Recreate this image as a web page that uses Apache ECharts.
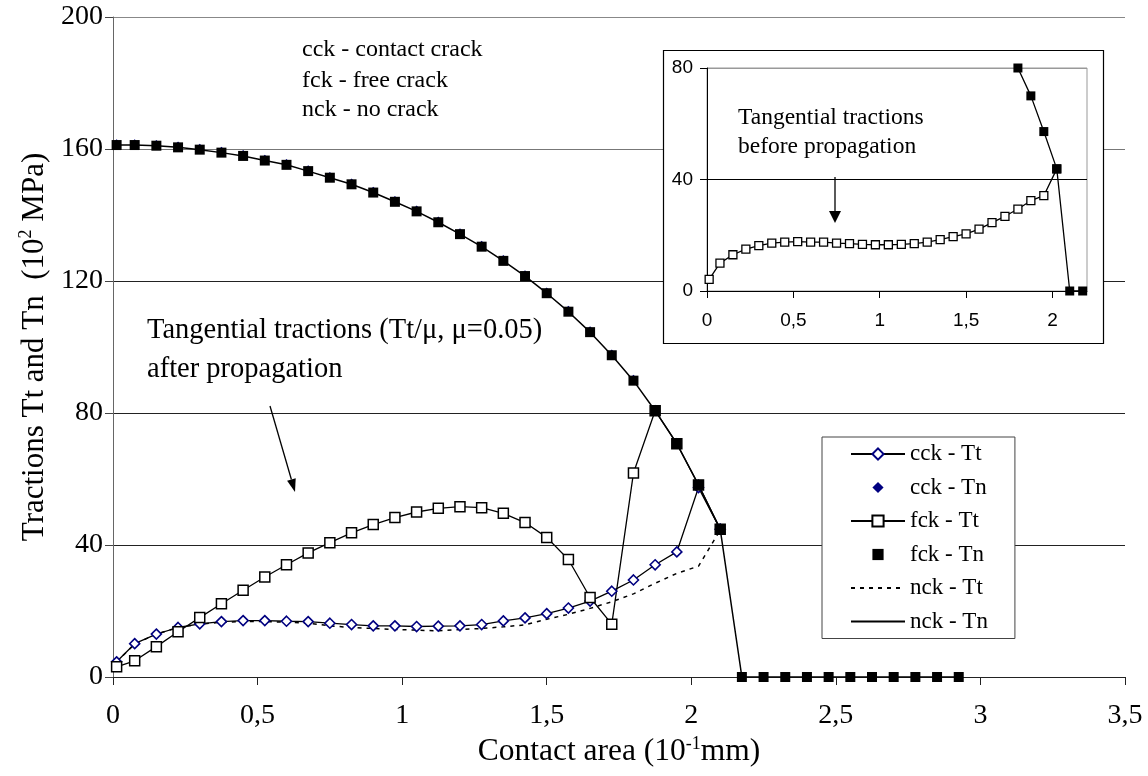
<!DOCTYPE html>
<html><head><meta charset="utf-8">
<script src="https://cdn.jsdelivr.net/npm/echarts@6/dist/echarts.min.js"></script>
<style>html,body{margin:0;padding:0;background:#fff}#c{width:1148px;height:776px}</style>
</head><body><div id="c"></div>
<script>
// ---------- data ----------
const xMain = [0.0125,0.075,0.15,0.225,0.3,0.375,0.45,0.525,0.6,0.675,0.75,0.825,0.9,0.975,1.05,1.125,1.2,1.275,1.35,1.425,1.5,1.575,1.65,1.725,1.8,1.875,1.95,2.025,2.1,2.175,2.25,2.325,2.4,2.475,2.55,2.625,2.7,2.775,2.85,2.925];
const cckTt = [4.6,10.1,13.0,15.0,16.1,16.8,17.1,17.1,16.9,16.8,16.3,15.9,15.5,15.5,15.3,15.4,15.5,15.9,17.0,17.9,19.2,20.9,23.0,26.0,29.4,34.0,37.9,57.4,44.8];
const cckTn = [161.6,161.6,161.4,160.9,160.2,159.3,158.3,156.9,155.6,153.7,151.7,149.7,147.2,144.4,141.5,138.2,134.6,130.8,126.5,121.9,116.7,111.1,104.9,97.9,90.2,81.1,71.1,58.6,45.2];
const fckTt = [3.1,4.9,9.2,13.7,18.0,22.2,26.3,30.3,34.0,37.6,40.7,43.7,46.2,48.3,50.0,51.1,51.6,51.3,49.6,46.8,42.3,35.6,24.1,16.0,61.8,80.7,70.7,58.2,44.8];
const fckTn = [161.2,161.2,161.0,160.5,159.8,158.9,157.9,156.5,155.2,153.3,151.3,149.3,146.8,144.0,141.1,137.8,134.2,130.4,126.1,121.5,116.3,110.7,104.5,97.5,89.8,80.7,70.7,58.2,44.8,0,0,0,0,0,0,0,0,0,0,0];
const nckTt = [4.6,10.0,13.0,15.0,16.0,16.6,16.8,16.8,16.6,16.3,15.5,15.0,14.7,14.4,14.2,14.0,14.4,14.7,15.2,15.8,17.5,19.0,20.8,22.8,25.2,28.4,31.4,33.6,44.5];
const nckTn = [161.2,161.2,161.0,160.5,159.8,158.9,157.9,156.5,155.2,153.3,151.3,149.3,146.8,144.0,141.1,137.8,134.2,130.4,126.1,121.5,116.3,110.7,104.5,97.5,89.8,80.7,70.7,58.2,44.8,0,0,0,0,0,0,0,0,0,0,0];
// inset (before propagation)
const insetTtX = [0.0125,0.075,0.15,0.225,0.3,0.375,0.45,0.525,0.6,0.675,0.75,0.825,0.9,0.975,1.05,1.125,1.2,1.275,1.35,1.425,1.5,1.575,1.65,1.725,1.8,1.875,1.95,2.025];
const insetTt = [4.2,10.0,13.0,15.0,16.3,17.2,17.5,17.7,17.5,17.5,17.2,17.0,16.7,16.6,16.6,16.7,17.0,17.5,18.4,19.5,20.5,22.2,24.5,26.8,29.4,32.4,34.2,43.8];
const insetTnX = [1.8,1.875,1.95,2.025,2.1,2.175];
const insetTn = [80,70,57.2,43.8,0,0];
const legendNames = ['cck - Tt','cck - Tn','fck - Tt','fck - Tn','nck - Tt','nck - Tn'];
const insetTickValues = [0,0.5,1,1.5,2];

// ---------- chart ----------
const SERIF = '"Liberation Serif","Times New Roman",serif';
const SANS = '"Liberation Sans",Arial,sans-serif';
const fmt = v => String(v).replace('.', ',');
const pairs = (xs, ys) => ys.map((y, i) => [xs[i], y]);
const lineOnly = ['nck - Tt', 'nck - Tn'];

const chart = echarts.init(document.getElementById('c'), null, {renderer: 'canvas'});
const option = {
  animation: false,
  backgroundColor: '#fff',
  grid: [
    {left: 113, top: 17, right: 23, bottom: 99},
    {left: 707, top: 68, right: 61, bottom: 485, show: true, borderColor: '#999', borderWidth: 1, backgroundColor: 'transparent', z: 10}
  ],
  xAxis: [
    {
      type: 'value', gridIndex: 0, min: 0, max: 3.5, interval: 0.5,
      axisLine: {show: true, onZero: false, lineStyle: {color: '#222', width: 1}},
      axisTick: {show: true, inside: false, length: 8, lineStyle: {color: '#222'}},
      axisLabel: {fontFamily: SERIF, fontSize: 28, color: '#000', margin: 25, formatter: fmt},
      splitLine: {show: false},
      name: '{t|Contact area (10}{s|-1}{t|mm)}',
      nameLocation: 'middle', nameGap: 56,
      nameTextStyle: {rich: {
        t: {fontFamily: SERIF, fontSize: 31.5, color: '#000', lineHeight: 34},
        s: {fontFamily: SERIF, fontSize: 18, color: '#000', verticalAlign: 'top', lineHeight: 34}
      }}
    },
    {
      type: 'value', gridIndex: 1, min: 0, max: 2.2, interval: 0.5, z: 12,
      axisLine: {show: true, onZero: false, lineStyle: {color: '#000', width: 1}},
      axisTick: {show: true, length: 7, customValues: insetTickValues, lineStyle: {color: '#000'}},
      axisLabel: {customValues: insetTickValues, fontFamily: SANS, fontSize: 19, color: '#000', margin: 20, formatter: fmt},
      splitLine: {show: false}
    }
  ],
  yAxis: [
    {
      type: 'value', gridIndex: 0, min: 0, max: 200, interval: 40,
      axisLine: {show: true, onZero: false, lineStyle: {color: '#666', width: 1}},
      axisTick: {show: true, inside: false, length: 8, lineStyle: {color: '#444'}},
      axisLabel: {fontFamily: SERIF, fontSize: 28, color: '#000', margin: 10},
      splitLine: {show: true, lineStyle: {color: ['#000', '#222', '#222', '#222', '#777', '#888'], width: 1}},
      name: '{t|Tractions Tt and Tn  (10}{s|2}{t| MPa)}',
      nameLocation: 'middle', nameGap: 56,
      nameTextStyle: {rich: {
        t: {fontFamily: SERIF, fontSize: 31, color: '#000', lineHeight: 34},
        s: {fontFamily: SERIF, fontSize: 18, color: '#000', verticalAlign: 'top', lineHeight: 34}
      }}
    },
    {
      type: 'value', gridIndex: 1, min: 0, max: 80, interval: 40, z: 12,
      axisLine: {show: true, onZero: false, lineStyle: {color: '#000', width: 1}},
      axisTick: {show: true, inside: false, length: 7, lineStyle: {color: '#000'}},
      axisLabel: {fontFamily: SANS, fontSize: 19, color: '#000', margin: 14},
      splitLine: {show: true, lineStyle: {color: ['#000', '#000', '#999'], width: 1}}
    }
  ],
  legend: {
    data: legendNames.map(n => lineOnly.includes(n) ? {name: n, itemStyle: {opacity: 0}} : {name: n}),
    orient: 'vertical', left: 822, top: 437,
    itemWidth: 54, itemHeight: 14, itemGap: 9.5,
    padding: [5, 27, 5, 28],
    borderColor: '#444', borderWidth: 1, backgroundColor: '#fff',
    textStyle: {fontFamily: SERIF, fontSize: 23, color: '#000', lineHeight: 24},
    selectedMode: false, z: 6
  },
  graphic: [
    {type: 'rect', z: 5, shape: {x: 663.5, y: 50.5, width: 440, height: 293}, style: {fill: '#fff', stroke: '#000', lineWidth: 1.2}},
    {type: 'text', z: 20, x: 302, y: 50, style: {text: 'cck - contact crack', font: '24px ' + SERIF, fill: '#000', align: 'left', verticalAlign: 'middle'}},
    {type: 'text', z: 20, x: 302, y: 81, style: {text: 'fck - free crack', font: '24px ' + SERIF, fill: '#000', align: 'left', verticalAlign: 'middle'}},
    {type: 'text', z: 20, x: 302, y: 110, style: {text: 'nck - no crack', font: '24px ' + SERIF, fill: '#000', align: 'left', verticalAlign: 'middle'}},
    {type: 'text', z: 20, x: 147, y: 331, style: {text: 'Tangential tractions (Tt/\u03bc, \u03bc=0.05)', font: '28.5px ' + SERIF, fill: '#000', align: 'left', verticalAlign: 'middle'}},
    {type: 'text', z: 20, x: 147, y: 370, style: {text: 'after propagation', font: '28.5px ' + SERIF, fill: '#000', align: 'left', verticalAlign: 'middle'}},
    {type: 'polyline', z: 20, shape: {points: [[270, 406], [291.4, 479.5]]}, style: {stroke: '#000', lineWidth: 1.3, fill: null}},
    {type: 'polygon', z: 20, shape: {points: [[295, 492], [287.1, 480.8], [295.7, 478.2]]}, style: {fill: '#000'}},
    {type: 'text', z: 20, x: 738, y: 118, style: {text: 'Tangential tractions', font: '23.5px ' + SERIF, fill: '#000', align: 'left', verticalAlign: 'middle'}},
    {type: 'text', z: 20, x: 738, y: 147, style: {text: 'before propagation', font: '23.5px ' + SERIF, fill: '#000', align: 'left', verticalAlign: 'middle'}},
    {type: 'polyline', z: 20, shape: {points: [[835, 177], [835, 212]]}, style: {stroke: '#000', lineWidth: 1.3, fill: null}},
    {type: 'polygon', z: 20, shape: {points: [[829, 211], [841, 211], [835, 223]]}, style: {fill: '#000'}}
  ],
  series: [
    {name: 'nck - Tn', type: 'line', xAxisIndex: 0, yAxisIndex: 0, data: pairs(xMain, nckTn),
     symbol: 'none', lineStyle: {color: '#000', width: 1.5}, itemStyle: {color: '#000'}, emphasis: {disabled: true}},
    {name: 'cck - Tn', type: 'line', xAxisIndex: 0, yAxisIndex: 0, data: pairs(xMain, cckTn),
     symbol: 'diamond', symbolSize: 9, lineStyle: {width: 0, opacity: 0}, itemStyle: {color: '#000080', borderWidth: 0}, emphasis: {disabled: true}},
    {name: 'cck - Tt', type: 'line', xAxisIndex: 0, yAxisIndex: 0, data: pairs(xMain, cckTt),
     symbol: 'diamond', symbolSize: 10, showAllSymbol: true,
     lineStyle: {color: '#000', width: 1.3}, itemStyle: {color: '#fff', borderColor: '#000080', borderWidth: 1.6}, emphasis: {disabled: true}},
    {name: 'fck - Tt', type: 'line', xAxisIndex: 0, yAxisIndex: 0, data: pairs(xMain, fckTt),
     symbol: 'rect', symbolSize: 10, showAllSymbol: true,
     lineStyle: {color: '#000', width: 1.3}, itemStyle: {color: '#fff', borderColor: '#000', borderWidth: 1.5}, emphasis: {disabled: true}},
    {name: 'fck - Tn', type: 'line', xAxisIndex: 0, yAxisIndex: 0, data: pairs(xMain, fckTn),
     symbol: 'rect', symbolSize: 10, showAllSymbol: true,
     lineStyle: {width: 0, opacity: 0}, itemStyle: {color: '#000'}, emphasis: {disabled: true}},
    {name: 'nck - Tt', type: 'line', xAxisIndex: 0, yAxisIndex: 0, data: pairs(xMain, nckTt),
     symbol: 'none', lineStyle: {color: '#000', width: 1.5, type: [4, 5]}, itemStyle: {color: '#000'}, emphasis: {disabled: true}},
    {type: 'line', xAxisIndex: 1, yAxisIndex: 1, data: pairs(insetTtX, insetTt), z: 12,
     symbol: 'rect', symbolSize: 8, showAllSymbol: true,
     lineStyle: {color: '#000', width: 1.3}, itemStyle: {color: '#fff', borderColor: '#000', borderWidth: 1.3}, emphasis: {disabled: true}},
    {type: 'line', xAxisIndex: 1, yAxisIndex: 1, data: pairs(insetTnX, insetTn), z: 12,
     symbol: 'rect', symbolSize: 9, showAllSymbol: true,
     lineStyle: {color: '#000', width: 1.3}, itemStyle: {color: '#000'}, emphasis: {disabled: true}}
  ]
};
chart.setOption(option);
</script></body></html>
